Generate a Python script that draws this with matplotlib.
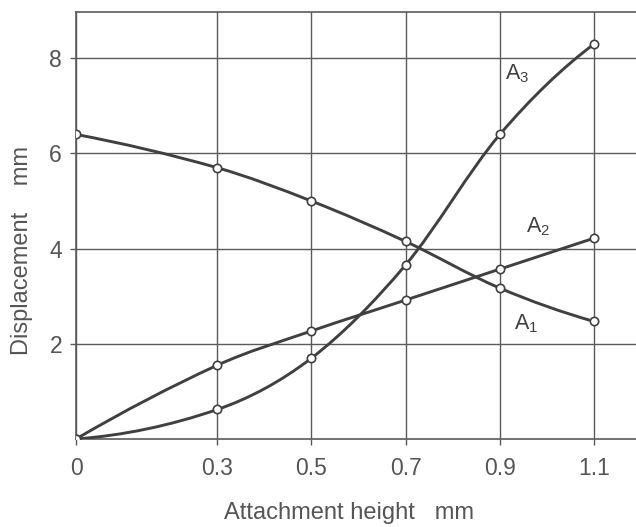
import numpy as np
import matplotlib
matplotlib.use("Agg")
import matplotlib.pyplot as plt
from matplotlib.path import Path
from matplotlib.patches import PathPatch

# attachment height (mm) and displacement (mm) for three curves
height = [0.0, 0.3, 0.5, 0.7, 0.9, 1.1]
a1 = [6.4, 5.7, 5.0, 4.15, 3.17, 2.47]
a2 = [0.0, 1.55, 2.27, 2.92, 3.57, 4.22]
a3 = [0.0, 0.62, 1.7, 3.66, 6.4, 8.3]

xticks = [0, 0.3, 0.5, 0.7, 0.9, 1.1]
xtick_labels = ["0", "0.3", "0.5", "0.7", "0.9", "1.1"]
yticks = [2, 4, 6, 8]

INK = "#404040"
GRID = "#5a5a5a"
TXT = "#555555"

plt.rcParams["font.family"] = ["Liberation Sans", "DejaVu Sans"]
plt.rcParams["mathtext.fontset"] = "custom"
plt.rcParams["mathtext.rm"] = "Liberation Sans"
plt.rcParams["mathtext.it"] = "Liberation Sans"


def smooth_path(xs, ys):
    # cubic hermite through the points, drawn as bezier segments
    x = np.asarray(xs, float)
    y = np.asarray(ys, float)
    n = len(x)
    m = np.zeros(n)
    for i in range(1, n - 1):
        m[i] = (y[i + 1] - y[i - 1]) / (x[i + 1] - x[i - 1])
    m[0] = 2 * (y[1] - y[0]) / (x[1] - x[0]) - m[1]
    m[-1] = 2 * (y[-1] - y[-2]) / (x[-1] - x[-2]) - m[-2]
    verts = [(x[0], y[0])]
    codes = [Path.MOVETO]
    for i in range(n - 1):
        h = x[i + 1] - x[i]
        verts += [(x[i] + h / 3, y[i] + m[i] * h / 3),
                  (x[i + 1] - h / 3, y[i + 1] - m[i + 1] * h / 3),
                  (x[i + 1], y[i + 1])]
        codes += [Path.CURVE4] * 3
    return Path(verts, codes)


fig = plt.figure(figsize=(6.36, 5.27), dpi=100)
ax = fig.add_axes([0.1195, 0.167, 0.8805, 0.81])

ax.set_xlim(0, 1.189)
ax.set_ylim(0, 8.97)

for ys in (a1, a2, a3):
    ax.add_patch(PathPatch(smooth_path(height, ys), fill=False,
                           edgecolor=INK, lw=2.1, zorder=3))
    ax.plot(height, ys, ls="none", marker="o", ms=6, mfc="white",
            mec=INK, mew=1.2, zorder=4)

ax.set_xticks(xticks)
ax.set_xticklabels(xtick_labels)
ax.set_yticks(yticks)
ax.tick_params(axis="both", colors=GRID, labelcolor=TXT,
               labelsize=16.5, length=4, width=1, direction="out")
ax.tick_params(axis="x", pad=9)
ax.tick_params(axis="y", pad=6)

ax.grid(True, color=GRID, lw=1.0)
ax.set_axisbelow(True)
for side in ("left", "bottom", "top"):
    ax.spines[side].set_color(GRID)
    ax.spines[side].set_linewidth(1.2)
ax.spines["right"].set_visible(False)

ax.text(0.91, 7.55, "A$_3$", fontsize=15.5, color=INK)
ax.text(0.955, 4.35, "A$_2$", fontsize=15.5, color=INK)
ax.text(0.93, 2.3, "A$_1$", fontsize=15.5, color=INK)

fig.text(0.549, 0.027, "Attachment height   mm", ha="center", va="center",
         fontsize=17, color=TXT)
fig.text(0.034, 0.525, "Displacement    mm", ha="center", va="center",
         rotation=90, fontsize=17, color=TXT)

fig.savefig("out.png", dpi=100)
